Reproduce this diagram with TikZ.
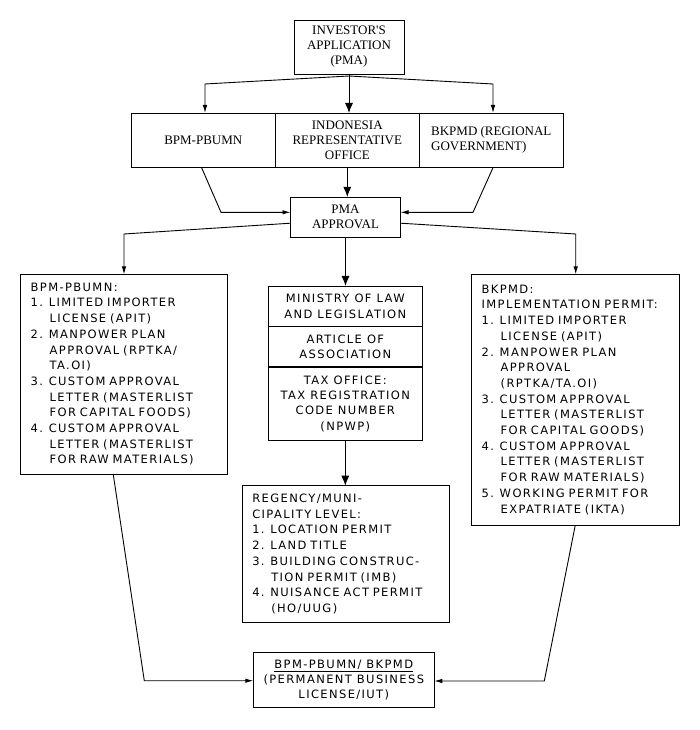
\documentclass[tikz,border=0pt]{standalone}
\usepackage{fontspec}
\setmainfont{DejaVu Sans}[LetterSpace=12]
\newfontfamily\serifbox{Liberation Serif}
\usetikzlibrary{arrows.meta,positioning}
\newcommand\ind{\hspace*{19pt}}

\begin{document}
\begin{tikzpicture}[
            x=1pt, y=-1pt,
            >={Latex[length=8pt,width=4.5pt]},
            line width=0.9pt,
            bigtip/.style={-{Latex[length=10pt,width=8pt]}},
            block/.style={draw, rectangle, inner sep=0pt, outer sep=0pt,
                            align=center, font=\serifbox\fontsize{13}{15}\selectfont},
            listbox/.style={draw, rectangle, inner xsep=10pt, inner ysep=0pt,
                            outer sep=0pt, align=left, font=\fontsize{11.5}{15.7}\selectfont},
            stackbox/.style={draw, rectangle, inner sep=0pt, outer sep=0pt,
                            minimum width=154pt, align=center,
                            font=\fontsize{11.5}{15.3}\selectfont}
        ]

            \useasboundingbox (0,0) rectangle (700,730);

            \node[block, minimum width=110pt, minimum height=54pt] (app) at (349,47)
                {INVESTOR'S\\APPLICATION\\(PMA)};

            \node[block, minimum width=144pt, minimum height=54pt] (ind) at (347.3,140)
                {INDONESIA\\REPRESENTATIVE\\OFFICE};
            \node[block, minimum width=144pt, minimum height=54pt, left=0pt of ind] (bpm)
                {BPM-PBUMN};
            \node[block, minimum width=144pt, minimum height=54pt, right=0pt of ind,
                    align=left] (bkpmd) {BKPMD (REGIONAL\\GOVERNMENT)};

            \node[block, minimum width=110pt, minimum height=40.5pt] (pma) at (345.5,217.2)
                {PMA\\APPROVAL};

            \node[listbox, text width=187pt, minimum height=199.7pt] (lbox) at (124.2,374.2)
                {BPM-PBUMN:\\
                 1. LIMITED IMPORTER\\\ind LICENSE (APIT)\\
                 2. MANPOWER PLAN\\\ind APPROVAL (RPTKA/\\\ind TA.OI)\\
                 3. CUSTOM APPROVAL\\\ind LETTER (MASTERLIST\\\ind FOR CAPITAL FOODS)\\
                 4. CUSTOM APPROVAL\\\ind LETTER (MASTERLIST\\\ind FOR RAW MATERIALS)};

            \node[listbox, text width=187.3pt, minimum height=250.7pt] (rbox) at (575.3,399.7)
                {BKPMD:\\IMPLEMENTATION PERMIT:\\
                 1. LIMITED IMPORTER\\\ind LICENSE (APIT)\\
                 2. MANPOWER PLAN\\\ind APPROVAL\\\ind (RPTKA/TA.OI)\\
                 3. CUSTOM APPROVAL\\\ind LETTER (MASTERLIST\\\ind FOR CAPITAL GOODS)\\
                 4. CUSTOM APPROVAL\\\ind LETTER (MASTERLIST\\\ind FOR RAW MATERIALS)\\
                 5. WORKING PERMIT FOR\\\ind EXPATRIATE (IKTA)};

            \node[stackbox, minimum height=40.7pt] (minis) at (345.3,306.3)
                {MINISTRY OF LAW\\AND LEGISLATION};
            \node[stackbox, minimum height=40.6pt, below=0pt of minis] (art)
                {ARTICLE OF\\ASSOCIATION};
            \node[stackbox, minimum height=72.7pt, below=0pt of art] (tax)
                {TAX OFFICE:\\TAX REGISTRATION\\CODE NUMBER\\(NPWP)};
            \draw[line width=2pt] (art.south west) -- (art.south east);

            \node[listbox, text width=187pt, minimum height=136.6pt] (reg) at (345.8,554)
                {REGENCY/MUNI-\\CIPALITY LEVEL:\\
                 1. LOCATION PERMIT\\2. LAND TITLE\\
                 3. BUILDING CONSTRUC-\\\ind TION PERMIT (IMB)\\
                 4. NUISANCE ACT PERMIT\\\ind (HO/UUG)};

            \node[stackbox, minimum width=181pt, minimum height=55.4pt,
                    font=\fontsize{11.5}{14.7}\selectfont] (fin) at (343.8,680)
                {\underline{BPM-PBUMN/ BKPMD}\\(PERMANENT BUSINESS\\LICENSE/IUT)};

            \coordinate (k1) at (205,84);
            \coordinate (k2) at (493,84);
            \draw[bigtip] (app.south) -- (app.south |- ind.north);
            \draw[->] ([yshift=-2pt]app.south) -- (k1) -- (k1 |- bpm.north);
            \draw[->] ([yshift=-2pt]app.south) -- (k2) -- (k2 |- bkpmd.north);

            \coordinate (b1) at (221,212.3);
            \coordinate (b2) at (473,212.3);
            \draw[->] ([xshift=-2pt]bpm.south) -- (b1) -- (b1 -| pma.west);
            \draw[bigtip] (ind.south) -- (ind.south |- pma.north);
            \draw[->] ([xshift=2pt]bkpmd.south) -- (b2) -- (b2 -| pma.east);

            \coordinate (p1) at (124,234);
            \coordinate (p2) at (575.7,234);
            \draw[->] ([yshift=-6pt]pma.west) -- (p1) -- (p1 |- lbox.north);
            \draw[->] ([yshift=-6pt]pma.east) -- (p2) -- (p2 |- rbox.north);
            \draw[bigtip] (pma.south) -- (pma.south |- minis.north);
            \draw[bigtip] (tax.south) -- (tax.south |- reg.north);

            \coordinate (q1) at (144.3,680.7);
            \coordinate (q2) at (544.3,681);
            \draw[->] ([xshift=-11pt]lbox.south) -- (q1) -- (q1 -| fin.west);
            \draw[->] (rbox.south) -- (q2) -- (q2 -| fin.east);

        \end{tikzpicture}
\end{document}
